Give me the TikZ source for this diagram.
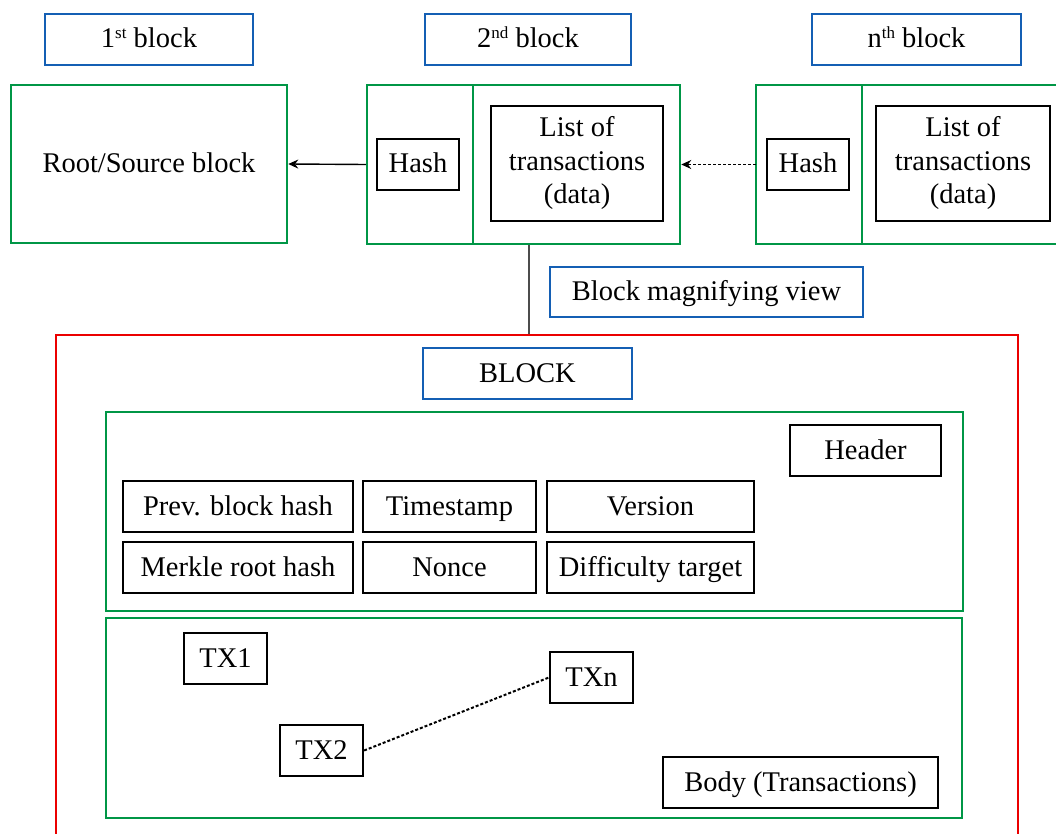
\documentclass[tikz,border=0pt]{standalone}
\usepackage{fontspec}
\setmainfont{Liberation Serif}
\usetikzlibrary{arrows.meta,calc}
\definecolor{bgreen}{RGB}{0,150,70}
\definecolor{bblue}{RGB}{20,95,180}
\definecolor{bred}{RGB}{235,0,0}
\newcommand{\supx}[1]{\raisebox{9.5pt}{\fontsize{17}{17}\selectfont #1}}
\tikzset{
  every node/.style={font=\fontsize{28.5}{33.5}\selectfont, inner sep=0pt, align=center},
  one/.style={text height=21pt, text depth=4pt},
  lblbox/.style={draw=bblue, line width=2.5pt, one},
  grnbox/.style={draw=bgreen, line width=2.5pt},
  blkbox/.style={draw=black, line width=2.2pt},
  conn/.style={draw=black, line width=1.4pt},
}
\begin{document}
\begin{tikzpicture}[x=1pt,y=-1pt]
\useasboundingbox (0,0) rectangle (1056,834);
% top labels
\node[lblbox, minimum width=208, minimum height=51] (lbl1) at (149,39.5) {1\supx{st} block};
\node[lblbox, minimum width=206, minimum height=51] (lbl2) at (528,39.5) {2\supx{nd} block};
\node[lblbox, minimum width=209, minimum height=51] (lbln) at (916.5,39.5) {n\supx{th} block};
% chain blocks
\node[grnbox, one, minimum width=276, minimum height=158] (root) at (149,164) {Root/Source block};
\node[grnbox, minimum width=313, minimum height=159] (b2) at (523.5,164.5) {};
\draw[bgreen, line width=2.5pt] (473,85) -- (473,244);
\node[blkbox, one, minimum width=82, minimum height=51] (hash2) at (418,164.5) {Hash};
\node[blkbox, minimum width=172, minimum height=115] (list2) at (577,163.5) {List of\\transactions\\(data)};
\node[minimum width=302, minimum height=159] (bn) at (907,164.5) {};
\draw[bgreen, line width=2.5pt] (bn.north east) -- (bn.north west) -- (bn.south west) -- (bn.south east);
\draw[bgreen, line width=2.5pt] (862,85) -- (862,244);
\node[blkbox, one, minimum width=82, minimum height=51] (hashn) at (808,164.5) {Hash};
\node[blkbox, minimum width=174, minimum height=115] (listn) at (963,163.5) {List of\\transactions\\(data)};
% chain connectors
\draw[conn, -{Stealth[length=10pt,width=9pt]}] (b2.west) -- (root.east);
\draw[conn, dash pattern=on 3pt off 2pt, -{Stealth[length=10pt,width=9pt]}] (bn.west) -- (b2.east);
% magnifying view
\coordinate (magtop) at (529,335);
\draw[draw=black!70, line width=1.5pt] (b2.south -| magtop) -- (magtop);
\node[lblbox, minimum width=313, minimum height=50] (mag) at (706.5,292) {Block magnifying view};
\draw[bred, line width=1.8pt] (56,836) -- (56,335) -- (1018,335) -- (1018,836);
\node[lblbox, minimum width=209, minimum height=51] (blk) at (527.5,373.5) {BLOCK};
% header
\node[grnbox, minimum width=857, minimum height=199] (header) at (534.5,511.5) {};
\node[blkbox, one, minimum width=151, minimum height=51] (hdrlbl) at (865.5,450.5) {Header};
\node[blkbox, one, minimum width=230, minimum height=51] (prev) at (238,506.5) {Prev. block hash};
\node[blkbox, one, minimum width=173, minimum height=51] (ts) at (449.5,506.5) {Timestamp};
\node[blkbox, one, minimum width=207, minimum height=51] (ver) at (650.5,506.5) {Version};
\node[blkbox, one, minimum width=230, minimum height=51] (merkle) at (238,567.5) {Merkle root hash};
\node[blkbox, one, minimum width=173, minimum height=51] (nonce) at (449.5,567.5) {Nonce};
\node[blkbox, one, minimum width=207, minimum height=51] (diff) at (650.5,567.5) {Difficulty target};
% body
\node[grnbox, minimum width=856, minimum height=200] (body) at (534,718) {};
\node[blkbox, one, minimum width=83, minimum height=51] (tx1) at (225.5,658.5) {TX1};
\node[blkbox, one, minimum width=83, minimum height=51] (tx2) at (321.5,750.5) {TX2};
\node[blkbox, one, minimum width=83, minimum height=51] (txn) at (591.5,677.5) {TXn};
\node[blkbox, one, minimum width=275, minimum height=51] (bodylbl) at (800.5,782.5) {Body (Transactions)};
\draw[conn, line width=2pt, dash pattern=on 3pt off 2pt] (tx2.east) -- (txn.west);
\end{tikzpicture}
\end{document}
